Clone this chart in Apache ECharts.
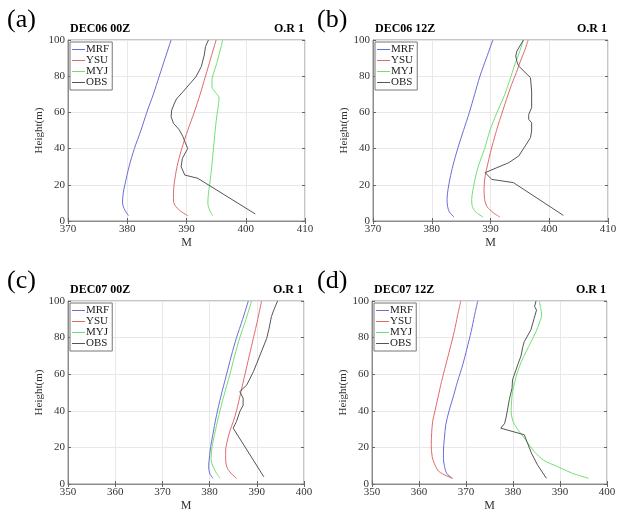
<!DOCTYPE html>
<html>
<head>
<meta charset="utf-8">
<script src="https://cdn.jsdelivr.net/npm/echarts@6/dist/echarts.min.js"></script>
<style>html,body{margin:0;padding:0;background:#fff}#c{width:622px;height:513px}</style>
</head>
<body>
<div id="c"></div>
<script>
// ---- data: [M, height(m)] ----
const seriesNames = ['MRF', 'YSU', 'MYJ', 'OBS'];
const panelLabels = ['(a)', '(b)', '(c)', '(d)'];
const panelTitles = ['DEC06 00Z', 'DEC06 12Z', 'DEC07 00Z', 'DEC07 12Z'];
const panelRightTitles = ['O.R 1', 'O.R 1', 'O.R 1', 'O.R 1'];
const xRanges = [[370, 410], [370, 410], [350, 400], [350, 400]];
const yTicks = [0, 20, 40, 60, 80, 100];

// (a) DEC06 00Z
const mrfA = [[380.2,3],[379.6,6],[379.2,10],[379.3,15],[379.6,20],[380.3,30],[381.2,40],[382.3,50],[383.3,60],[384.4,70],[385.4,80],[386.4,90],[387.4,100]];
const ysuA = [[390.2,3],[389.2,5],[388.2,8],[387.8,11],[387.8,15],[387.9,20],[388.4,30],[389.2,40],[390.2,50],[391.3,60],[392.3,70],[393.2,80],[394.1,90],[395.0,100]];
const myjA = [[394.4,3],[393.9,6],[393.6,10],[393.7,15],[393.9,20],[394.1,25],[394.4,35],[394.7,45],[395.0,55],[395.3,62],[395.5,68],[394.9,71],[394.3,74],[394.3,78],[394.6,82],[395.1,87],[395.5,92],[395.9,97],[396.1,100]];
const obsA = [[401.6,3.9],[391.9,23.6],[389.7,25.4],[389.1,30],[389.3,34.6],[390.2,40],[389.4,46.6],[388.8,50.3],[387.8,54],[387.4,57.6],[387.5,61.3],[387.9,64.6],[388.3,67.4],[389.4,71.4],[391.6,79.7],[392.5,85.3],[393.0,91.7],[393.2,96.3],[393.7,100]];

// (b) DEC06 12Z
const mrfB = [[383.8,2.2],[383.0,5],[382.7,8],[382.6,12],[382.8,18],[383.2,25],[383.8,33],[384.6,42],[385.4,50],[386.4,60],[387.3,70],[388.2,80],[389.3,90],[390.4,100]];
const ysuB = [[391.6,2.2],[390.5,4.5],[389.4,8],[389.0,12],[388.9,18],[389.1,25],[389.5,31],[390.0,38],[390.5,44],[391.2,52],[391.9,59],[392.7,67],[393.6,75.5],[394.4,82],[395.1,88.4],[395.8,94],[396.4,100]];
const myjB = [[388.7,2.2],[387.5,5],[386.9,8],[386.8,12],[387.0,17],[387.5,25],[388.0,31],[389.0,40],[389.9,50],[391.1,60],[392.2,68],[393.2,77],[394.2,87],[395.0,94],[395.6,100]];
const obsB = [[402.4,3.1],[393.9,21.2],[390.2,23.0],[389.1,26.7],[391.1,29.5],[393.1,32.2],[394.8,35.9],[395.9,41.4],[396.8,46.0],[397.0,49.7],[397.0,54.3],[396.5,56.2],[396.5,58.9],[397.0,62.6],[397.0,71.8],[396.8,79.2],[394.8,85.6],[394.5,88],[394.3,91.2],[394.5,93.9],[395.6,100]];

// (c) DEC07 00Z
const mrfC = [[380.7,3.1],[380.0,6],[379.8,10],[379.9,13],[380.1,18],[380.4,23],[380.9,30],[381.5,38],[382.4,48],[383.6,60],[384.6,70],[385.7,80],[387.0,90],[388.2,100]];
const ysuC = [[385.7,3.1],[384.5,6],[383.7,9],[383.4,13],[383.4,18],[383.6,22],[384.3,29],[385.0,34],[385.7,40],[386.6,50],[387.5,60],[388.4,70],[389.3,80],[390.2,90],[391.0,100]];
const myjC = [[382.2,3.1],[381.2,7],[380.5,11],[380.3,14],[380.5,20],[380.8,24],[381.3,30],[382.0,38],[383.0,48],[384.3,60],[385.3,70],[386.4,80],[387.7,90],[388.9,100]];
const obsC = [[391.5,3.9],[385.0,30.5],[385.7,34.2],[386.4,39.6],[387.1,43],[387.1,46.9],[386.4,50.5],[387.9,54.2],[389.3,61.5],[390.0,66],[390.7,70.5],[392.1,79.6],[392.6,85],[393.1,91.5],[393.6,95],[394.4,100]];

// (d) DEC07 12Z
const mrfD = [[367.1,3.1],[365.9,5.8],[365.4,10],[365.2,14],[365.2,18],[365.4,25],[365.7,32.4],[366.4,40],[367.2,46.9],[368.2,56],[369.3,65.1],[370.2,74],[371.1,83.3],[371.8,92],[372.5,100]];
const ysuD = [[367.1,3.1],[364.3,6.7],[363.3,11],[362.8,15],[362.6,21.5],[362.7,28],[362.9,34.2],[363.4,40],[364.0,46.9],[364.8,56],[365.7,65.1],[366.6,74],[367.5,83.3],[368.2,92],[368.9,100]];
const myjD = [[396.1,3.1],[392.5,6],[389.5,9.5],[386.5,13],[384.5,17.8],[382.4,25.1],[380.8,30.5],[379.9,35],[379.6,40],[379.7,45],[379.9,50.5],[380.4,56],[381.0,61.5],[381.8,67],[382.8,72.4],[383.9,78],[384.9,83.3],[385.6,88],[386.1,92.4],[385.9,96],[385.6,100]];
const obsD = [[387.1,3.1],[385.2,10.5],[383.9,17],[382.4,26.9],[377.4,30.5],[378.2,33],[378.5,36],[378.9,41.5],[379.2,46],[379.8,52.4],[379.9,56.9],[381.0,65.1],[381.7,70],[382.1,75.1],[382.4,77.8],[383.8,84.2],[384.5,90.5],[385.0,95],[384.6,97],[384.9,100]];

const panelData = [
  [mrfA, ysuA, myjA, obsA],
  [mrfB, ysuB, myjB, obsB],
  [mrfC, ysuC, myjC, obsC],
  [mrfD, ysuD, myjD, obsD]
];

// ---- layout / style ----
const colors = ['#6b6bd9', '#e06a6a', '#70e070', '#555555'];
const grids = [
  {left: 68, top: 40, width: 237, height: 181},
  {left: 373, top: 40, width: 235, height: 181},
  {left: 68, top: 301, width: 236, height: 183},
  {left: 372, top: 301, width: 235, height: 183}
];
const labelLeft = [7, 317, 7, 317];
const SERIF = '"Liberation Serif", "Times New Roman", serif';

const option = {
  animation: false,
  backgroundColor: '#fff',
  grid: [], xAxis: [], yAxis: [], series: [], legend: [], title: []
};

grids.forEach((g, i) => {
  option.grid.push(Object.assign({show: true, borderColor: '#8c8c8c', borderWidth: 1, backgroundColor: '#fff'}, g));
  const [xmin, xmax] = xRanges[i];
  const tickStyle = {show: true, inside: true, length: 3, lineStyle: {color: '#666'}};
  option.xAxis.push({
    type: 'value', gridIndex: i, min: xmin, max: xmax, interval: 10,
    name: 'M', nameLocation: 'middle', nameGap: 16,
    nameTextStyle: {fontFamily: SERIF, fontSize: 12, color: '#333'},
    axisLine: {show: true, lineStyle: {color: '#8c8c8c'}},
    axisTick: tickStyle,
    axisLabel: {fontFamily: SERIF, fontSize: 11, color: '#333', margin: 3},
    splitLine: {show: true, lineStyle: {color: '#e8e8e8', width: 1}}
  });
  option.xAxis.push({
    type: 'value', gridIndex: i, min: xmin, max: xmax, interval: 10, position: 'top',
    axisLine: {show: false}, axisTick: tickStyle, axisLabel: {show: false}, splitLine: {show: false}
  });
  option.yAxis.push({
    type: 'value', gridIndex: i, min: 0, max: 100, interval: 20,
    name: 'Height(m)', nameLocation: 'middle', nameGap: 20,
    nameTextStyle: {fontFamily: SERIF, fontSize: 11, color: '#333'},
    axisLine: {show: true, lineStyle: {color: '#8c8c8c'}},
    axisTick: tickStyle,
    axisLabel: {fontFamily: SERIF, fontSize: 11, color: '#333', margin: 3},
    splitLine: {show: true, lineStyle: {color: '#e8e8e8', width: 1}}
  });
  option.yAxis.push({
    type: 'value', gridIndex: i, min: 0, max: 100, interval: 20, position: 'right',
    axisLine: {show: false}, axisTick: tickStyle, axisLabel: {show: false}, splitLine: {show: false}
  });

  seriesNames.forEach((nm, s) => {
    option.series.push({
      type: 'line', name: nm, xAxisIndex: 2 * i, yAxisIndex: 2 * i,
      data: panelData[i][s], showSymbol: false, symbol: 'none',
      smooth: s < 3 ? 0.3 : false,
      lineStyle: {color: colors[s], width: 1}, itemStyle: {color: colors[s]},
      z: s === 3 ? 3 : 2
    });
  });

  option.legend.push({
    data: seriesNames, orient: 'vertical', left: g.left + 2, top: g.top + 2,
    icon: 'rect', itemWidth: 13, itemHeight: 1, itemGap: 0,
    padding: [2, 3, 2, 2], backgroundColor: '#fff', borderColor: '#777', borderWidth: 1,
    textStyle: {fontFamily: SERIF, fontSize: 11, color: '#222', padding: [0, 0, 0, -4], lineHeight: 10.5},
    selectedMode: false
  });

  option.title.push({
    text: panelLabels[i], left: labelLeft[i], top: g.top - 33, padding: 0,
    textStyle: {fontFamily: SERIF, fontSize: 26, fontWeight: 'normal', color: '#000'}
  });
  option.title.push({
    text: panelTitles[i], left: g.left + 2, top: g.top - 17, padding: 0,
    textStyle: {fontFamily: SERIF, fontSize: 12, fontWeight: 'bold', color: '#000'}
  });
  option.title.push({
    text: panelRightTitles[i], right: 622 - (g.left + g.width) + 1, top: g.top - 17, padding: 0,
    textStyle: {fontFamily: SERIF, fontSize: 12, fontWeight: 'bold', color: '#000'}
  });
});

const chart = echarts.init(document.getElementById('c'), null, {renderer: 'canvas'});
chart.setOption(option);
</script>
</body>
</html>
